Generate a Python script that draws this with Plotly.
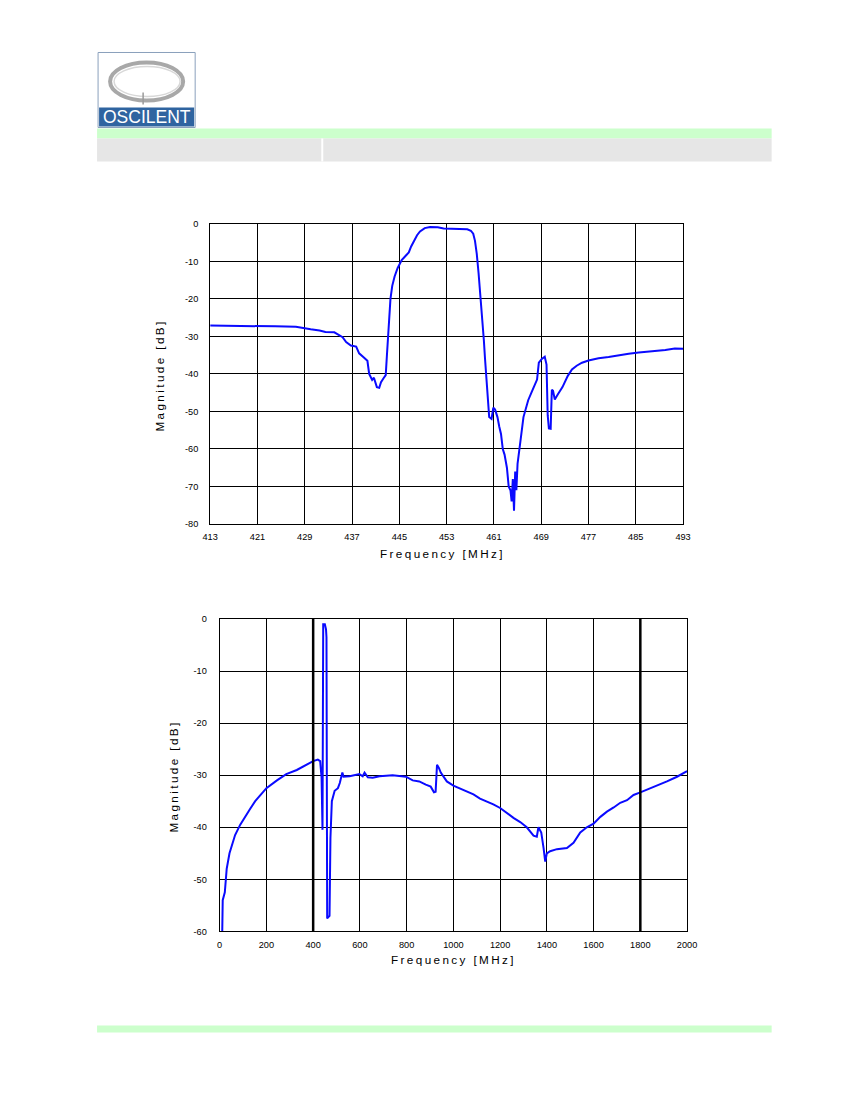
import plotly.graph_objects as go

# top chart: narrow band response around 453 MHz
freq_top = [413.0, 418.0, 423.5, 424.0, 427.5, 428.5, 430.0, 431.5, 432.5, 434.0,
            434.8, 435.4, 436.0, 436.8, 437.7, 438.2, 439.0, 439.6, 439.9, 440.4,
            440.7, 440.9, 441.2, 441.6, 441.9, 442.3, 442.7, 442.9, 443.1, 443.3,
            443.5, 443.8, 444.2, 444.7, 445.4, 446.0, 446.6, 447.0, 447.4, 448.0,
            448.5, 449.3, 450.2, 451.5, 452.5, 453.5, 455.0, 456.5, 457.1, 457.5,
            457.8, 458.1, 458.4, 458.6, 458.9, 459.1, 459.3, 459.5, 459.8, 460.0,
            460.2, 460.6, 460.9, 461.2, 461.6, 461.9, 462.2, 462.5, 462.8, 463.2,
            463.5, 463.8, 464.0, 464.2, 464.4, 464.6, 464.8, 465.0, 465.2, 465.6,
            466.0, 466.4, 466.8, 467.4, 468.0, 468.3, 468.6, 469.1, 469.6, 469.9,
            470.1, 470.3, 470.6, 470.8, 471.0, 471.3, 471.8, 472.6, 473.5, 474.2,
            475.0, 475.9, 477.0, 478.7, 480.4, 482.1, 483.8, 485.5, 487.7, 490.0,
            491.6, 493.0]
mag_top = [-27.1, -27.1, -27.1, -27.3, -27.4, -27.7, -28.1, -28.4, -28.8, -28.9,
           -29.6, -30.2, -31.5, -32.4, -32.7, -34.5, -35.6, -36.5, -40.0, -41.6,
           -41.0, -42.0, -43.5, -43.7, -42.2, -41.2, -40.3, -35.0, -29.5, -24.0,
           -20.0, -16.5, -14.0, -11.8, -9.6, -8.6, -7.6, -6.0, -4.7, -3.0,
           -2.0, -1.1, -0.8, -0.9, -1.2, -1.3, -1.4, -1.4, -1.8, -2.6,
           -4.5, -8.0, -13.0, -17.0, -21.0, -26.0, -31.0, -36.0, -43.0, -45.0,
           -51.5, -52.0, -49.0, -49.5, -51.5, -54.0, -56.0, -60.0, -61.5, -65.0,
           -70.0, -71.0, -74.0, -68.0, -76.5, -66.0, -71.0, -64.0, -61.0, -56.5,
           -51.5, -49.0, -47.0, -44.8, -42.8, -41.5, -37.0, -36.0, -35.4, -37.5,
           -51.0, -54.5, -54.6, -44.2, -44.5, -46.8, -45.5, -43.5, -40.5, -38.8,
           -37.8, -37.0, -36.4, -35.8, -35.5, -35.0, -34.6, -34.3, -34.0, -33.6,
           -33.2, -33.3]

# bottom chart: wide sweep 0-2000 MHz
freq_wide = [11, 13, 22, 30, 42, 52, 66, 88, 108, 130,
             152, 175, 200, 245, 285, 330, 370, 400, 420, 430,
             436, 440, 443, 450, 455, 457, 460, 470, 474, 480,
             492, 506, 514, 520, 525, 530, 556, 598, 612, 620,
             634, 655, 684, 740, 797, 826, 854, 882, 903, 917,
             924, 930, 938, 946, 960, 972, 1000, 1030, 1057, 1086,
             1114, 1143, 1171, 1200, 1229, 1257, 1286, 1314, 1343, 1357,
             1364, 1376, 1386, 1393, 1400, 1414, 1443, 1486, 1514, 1543,
             1571, 1600, 1629, 1657, 1686, 1714, 1743, 1771, 1800, 1829,
             1871, 1914, 1957, 2000]
mag_wide = [-60.0, -54.0, -52.5, -48.0, -45.0, -43.5, -41.5, -39.5, -38.0, -36.5,
            -35.0, -33.7, -32.5, -31.0, -29.8, -29.0, -28.0, -27.3, -27.0, -27.3,
            -30.5, -40.5, -1.0, -1.0, -2.0, -3.5, -57.5, -57.0, -42.0, -35.0,
            -33.0, -32.5, -31.5, -30.0, -29.5, -30.3, -30.2, -29.8, -30.2, -29.5,
            -30.4, -30.5, -30.2, -30.0, -30.3, -31.0, -31.2, -31.8, -32.2, -33.3,
            -33.2, -28.0, -28.6, -29.5, -30.5, -31.2, -32.0, -32.6, -33.2, -33.7,
            -34.5, -35.0, -35.6, -36.3, -37.3, -38.2, -39.0, -40.0, -41.6, -41.8,
            -40.0, -41.0, -44.0, -46.6, -45.0, -44.6, -44.2, -44.0, -43.0, -41.0,
            -40.0, -39.3, -38.0, -37.0, -36.2, -35.3, -34.8, -33.8, -33.3, -32.8,
            -32.0, -31.2, -30.3, -29.2]

top_xticks = list(range(413, 494, 8))
top_yticks = list(range(-80, 1, 10))
wide_xticks = list(range(0, 2001, 200))
wide_yticks = list(range(-60, 1, 10))
heavy_lines = [400, 1800]

W, H = 850, 1100


# page pixel -> paper fraction (small correction for how the page gets photographed)
def px(x):
    return ((x - 8) / 0.978) / W


def py(y):
    return 1 - ((y - 4.5) / 0.991) / H


def spaced(s, sp=2.4):
    return '<span style="letter-spacing:%spx">%s</span>' % (sp, s)


FONT = "Liberation Sans, Arial, sans-serif"
tick_font = dict(family=FONT, size=9.2, color="black")
title_font = dict(family=FONT, size=11.7, color="black")
blue = "#0a0aff"

fig = go.Figure()
fig.add_trace(go.Scatter(x=freq_top, y=mag_top, mode="lines",
                         line=dict(color=blue, width=2), xaxis="x", yaxis="y"))
fig.add_trace(go.Scatter(x=freq_wide, y=mag_wide, mode="lines",
                         line=dict(color=blue, width=2), xaxis="x2", yaxis="y2"))

axis_common = dict(showgrid=True, gridcolor="black", gridwidth=1, zeroline=False,
                   showline=True, linecolor="black", linewidth=1, mirror=True,
                   ticks="", tickfont=tick_font)

fig.update_layout(
    width=W, height=H, margin=dict(l=0, r=0, t=0, b=0),
    paper_bgcolor="white", plot_bgcolor="white", showlegend=False,
    xaxis=dict(domain=[px(210), px(682.5)], range=[413, 493], tickvals=top_xticks,
               ticktext=[str(v) for v in top_xticks], ticklabelstandoff=4,
               anchor="y", **axis_common),
    yaxis=dict(domain=[py(523.5), py(223.5)], range=[-80, 0], tickvals=top_yticks,
               ticktext=[str(v) for v in top_yticks], ticklabelstandoff=9,
               anchor="x", **axis_common),
    xaxis2=dict(domain=[px(219.5), px(686.5)], range=[0, 2000], tickvals=wide_xticks,
                ticktext=[str(v) for v in wide_xticks], ticklabelstandoff=5,
                anchor="y2", **axis_common),
    yaxis2=dict(domain=[py(931), py(618.5)], range=[-60, 0], tickvals=wide_yticks,
                ticktext=[str(v) for v in wide_yticks], ticklabelstandoff=10,
                anchor="x2", **axis_common),
)

# heavier grid lines on the wide sweep
for xv in heavy_lines:
    fig.add_shape(type="line", xref="x2", yref="y2", x0=xv, x1=xv, y0=-60, y1=0,
                  line=dict(color="black", width=2.5))


# axis titles
def label(text, x, y, angle=0):
    fig.add_annotation(text=spaced(text), x=px(x), y=py(y), xref="paper", yref="paper",
                       xanchor="center", yanchor="middle", showarrow=False,
                       font=title_font, textangle=angle)


label("Frequency [MHz]", 442, 553)
label("Magnitude [dB]", 159, 375, -90)
label("Frequency [MHz]", 453, 959)
label("Magnitude [dB]", 173, 776, -90)


# page header / footer bands
def rect(x0, y0, x1, y1, fill, line=None, lw=0):
    fig.add_shape(type="rect", xref="paper", yref="paper",
                  x0=px(x0), x1=px(x1), y0=py(y1), y1=py(y0),
                  fillcolor=fill, line=dict(color=line or fill, width=lw), layer="below")


rect(97, 128, 771, 138, "#ccffcc")
rect(97, 138, 771, 161, "#e6e6e6")
fig.add_shape(type="line", xref="paper", yref="paper", x0=px(322), x1=px(322),
              y0=py(161), y1=py(138), line=dict(color="white", width=2))
rect(97, 1025, 771, 1032, "#ccffcc")

# logo
rect(98, 52, 195, 127, "white", "#8aa0bc", 1)
rect(99, 107, 194, 126, "#2f64a0")
fig.add_shape(type="circle", xref="paper", yref="paper", x0=px(110), x1=px(183),
              y0=py(100), y1=py(62), line=dict(color="#a8a8a8", width=4))
fig.add_shape(type="circle", xref="paper", yref="paper", x0=px(114), x1=px(180),
              y0=py(96), y1=py(66), line=dict(color="#d8d8d8", width=1.5))
fig.add_shape(type="line", xref="paper", yref="paper", x0=px(143), x1=px(143),
              y0=py(104), y1=py(92), line=dict(color="#9a9a9a", width=1.5))
fig.add_annotation(text="OSCILENT", x=px(146.5), y=py(116.5), xref="paper", yref="paper",
                   xanchor="center", yanchor="middle", showarrow=False,
                   font=dict(family=FONT, size=17.5, color="white"))

fig.write_html("out.html", config={"displayModeBar": False},
               post_script="document.body.style.margin='0';")
